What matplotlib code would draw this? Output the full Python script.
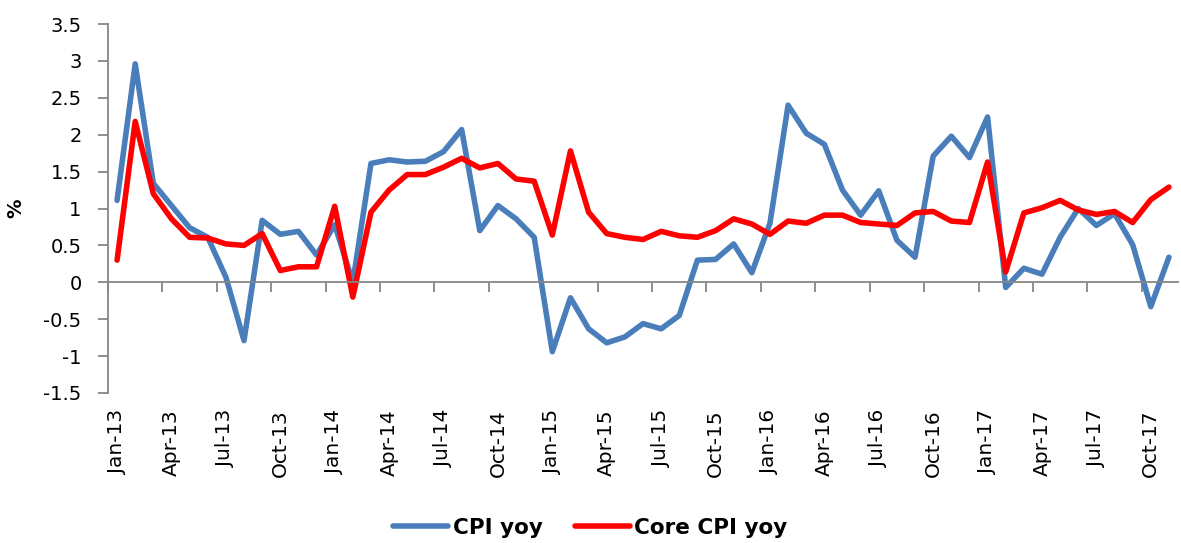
import numpy as np
import pandas as pd
import matplotlib
matplotlib.use('Agg')
import matplotlib.pyplot as plt
from matplotlib.ticker import MultipleLocator, FuncFormatter

# monthly categories Jan-13 .. Nov-17
months = pd.date_range('2013-01-01', '2017-11-01', freq='MS')
month_labels = [m.strftime('%b-%y') for m in months]

# values (%)
cpi_yoy = [1.11, 2.96, 1.34, 1.04, 0.74, 0.61, 0.07, -0.79, 0.84, 0.65, 0.69, 0.37,
           0.78, 0.00, 1.61, 1.66, 1.63, 1.64, 1.77, 2.07, 0.70, 1.04, 0.86, 0.61,
           -0.94, -0.21, -0.63, -0.82, -0.74, -0.56, -0.63, -0.45, 0.30, 0.31, 0.52, 0.13,
           0.80, 2.40, 2.02, 1.87, 1.25, 0.91, 1.24, 0.57, 0.34, 1.71, 1.98, 1.69,
           2.24, -0.07, 0.19, 0.11, 0.61, 1.00, 0.77, 0.93, 0.51, -0.33, 0.34]
core_cpi_yoy = [0.30, 2.18, 1.20, 0.86, 0.61, 0.60, 0.52, 0.50, 0.66, 0.16, 0.21, 0.21,
                1.03, -0.20, 0.95, 1.25, 1.46, 1.46, 1.56, 1.68, 1.55, 1.61, 1.40, 1.37,
                0.64, 1.78, 0.95, 0.66, 0.61, 0.58, 0.69, 0.63, 0.61, 0.70, 0.86, 0.79,
                0.65, 0.83, 0.80, 0.91, 0.91, 0.81, 0.79, 0.77, 0.94, 0.96, 0.83, 0.81,
                1.63, 0.14, 0.94, 1.01, 1.11, 0.98, 0.92, 0.96, 0.81, 1.12, 1.29]

grey = '#868686'
x = np.arange(len(months))

fig = plt.figure(figsize=(11.81, 5.43), dpi=100)
ax = fig.add_axes([108 / 1181, 1 - 393 / 543, 1070 / 1181, 369 / 543])

ax.plot(x, cpi_yoy, color='#4A7EBB', lw=4, label='CPI yoy',
        solid_joinstyle='round', solid_capstyle='round')
ax.plot(x, core_cpi_yoy, color='#FF0000', lw=4, label='Core CPI yoy',
        solid_joinstyle='round', solid_capstyle='round')

ax.set_xlim(-0.5, len(x) - 0.5)
ax.set_ylim(-1.5, 3.5)
ax.yaxis.set_major_locator(MultipleLocator(0.5))
ax.yaxis.set_major_formatter(FuncFormatter(lambda v, p: f'{v:g}'))

# horizontal axis crosses at zero, ticks between categories
for s in ['top', 'right']:
    ax.spines[s].set_visible(False)
ax.spines['bottom'].set_position(('data', 0))
ax.spines['bottom'].set_color(grey)
ax.spines['left'].set_color(grey)
ax.spines['bottom'].set_linewidth(1.3)
ax.spines['left'].set_linewidth(1.3)
ax.set_xticks(np.arange(-0.5, len(x), 3))
ax.tick_params(axis='x', length=7, width=1.3, color=grey, labelbottom=False)
ax.tick_params(axis='y', length=7, width=1.3, color=grey, labelsize=14, pad=12)

# month labels sit at the bottom of the plot area
sec = ax.secondary_xaxis(0)
sec.set_xticks(x[::3], month_labels[::3])
sec.tick_params(length=0, pad=12, labelsize=14.5, rotation=90)
sec.spines['bottom'].set_visible(False)

ax.set_ylabel('%', fontsize=14, fontweight='bold')
ax.yaxis.set_label_coords(-0.077, 0.5)

fig.legend(loc='center', bbox_to_anchor=(0.5, 1 - 528 / 543), ncol=2, frameon=False,
           prop=dict(weight='bold', size=15.5), handlelength=2.56,
           handletextpad=0.2, columnspacing=1.5)

fig.savefig('out.png', dpi=100)
